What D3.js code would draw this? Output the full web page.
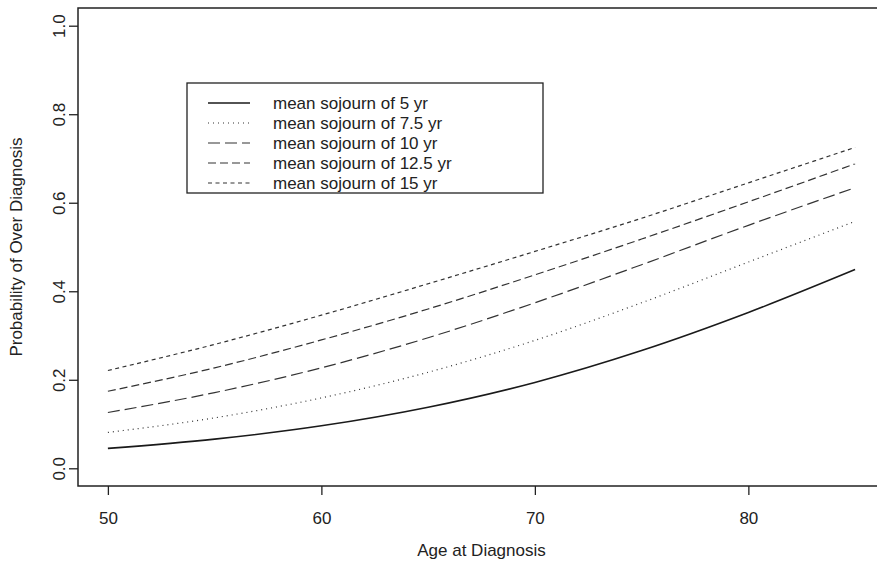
<!DOCTYPE html>
<html>
<head>
<meta charset="utf-8">
<script src="https://cdn.jsdelivr.net/npm/d3@7"></script>
<style>
  body { margin: 0; background: #fff; }
  svg { display: block; font-family: "Liberation Sans", Arial, Helvetica, sans-serif; }
</style>
</head>
<body>
<div id="viz"></div>
<script>
// values (probability of over diagnosis by age)
var ages = [50, 55, 60, 65, 70, 75, 80, 85];
var sojourn5   = [0.045, 0.066, 0.096, 0.138, 0.194, 0.266, 0.352, 0.449];
var sojourn7_5 = [0.081, 0.114, 0.159, 0.217, 0.289, 0.374, 0.466, 0.558];
var sojourn10  = [0.126, 0.171, 0.227, 0.295, 0.374, 0.460, 0.549, 0.634];
var sojourn12_5 = [0.174, 0.227, 0.290, 0.360, 0.437, 0.518, 0.602, 0.688];
var sojourn15  = [0.221, 0.280, 0.346, 0.417, 0.490, 0.565, 0.645, 0.725];
var seriesNames = ["mean sojourn of 5 yr", "mean sojourn of 7.5 yr", "mean sojourn of 10 yr",
                   "mean sojourn of 12.5 yr", "mean sojourn of 15 yr"];
var xTicks = [50, 60, 70, 80];
var yTicks = [0, 0.2, 0.4, 0.6, 0.8, 1.0];

var allSeries = [sojourn5, sojourn7_5, sojourn10, sojourn12_5, sojourn15];
var dashes = [null, "1,4", "12,5", "8,4", "4,3.5"];

var W = 877, H = 563;
var box = {left: 78, right: 885, top: 8, bottom: 486};

var svg = d3.select("#viz")
  .append("svg")
    .attr("width", W)
    .attr("height", H);

// R style axis range, 4% padding on each side
var x = d3.scaleLinear().domain([48.6, 86.4]).range([box.left, box.right]);
var y = d3.scaleLinear().domain([-0.04, 1.04]).range([box.bottom, box.top]);

// x axis
var xAxis = svg.append("g")
  .attr("transform", "translate(0," + box.bottom + ")")
  .call(d3.axisBottom(x).tickValues(xTicks).tickSize(9).tickPadding(17));
xAxis.select(".domain").remove();
xAxis.selectAll("line").attr("stroke", "#222").attr("stroke-width", 1.3);
xAxis.selectAll("text").attr("fill", "#222").style("font-size", "17px");

// y axis, labels turned like R does
var yAxis = svg.append("g")
  .attr("transform", "translate(" + box.left + ",0)")
  .call(d3.axisLeft(y).tickValues(yTicks).tickSize(9).tickFormat(d3.format(".1f")));
yAxis.select(".domain").remove();
yAxis.selectAll("line").attr("stroke", "#222").attr("stroke-width", 1.3);
yAxis.selectAll("text")
  .attr("fill", "#222")
  .style("font-size", "17px")
  .attr("transform", "rotate(-90)")
  .attr("x", 0)
  .attr("y", -13)
  .attr("dy", 0)
  .attr("text-anchor", "middle");

// plot frame
svg.append("rect")
  .attr("x", box.left).attr("y", box.top)
  .attr("width", box.right - box.left).attr("height", box.bottom - box.top)
  .attr("fill", "none").attr("stroke", "#222").attr("stroke-width", 1.5);

// axis titles
svg.append("text")
  .attr("x", (box.left + box.right) / 2)
  .attr("y", 556)
  .attr("text-anchor", "middle")
  .style("font-size", "17px")
  .attr("fill", "#222")
  .text("Age at Diagnosis");

svg.append("text")
  .attr("transform", "translate(22," + y(0.5) + ") rotate(-90)")
  .attr("text-anchor", "middle")
  .style("font-size", "17px")
  .attr("fill", "#222")
  .text("Probability of Over Diagnosis");

// the curves
var line = d3.line()
  .x(function(d, i) { return x(ages[i]); })
  .y(function(d) { return y(d); })
  .curve(d3.curveMonotoneX);

allSeries.forEach(function(s, i) {
  svg.append("path")
    .datum(s)
    .attr("d", line)
    .attr("fill", "none")
    .attr("stroke", i == 0 ? "#1a1a1a" : "#333")
    .attr("stroke-width", i == 0 ? 1.6 : 1.2)
    .attr("stroke-dasharray", dashes[i]);
});

// legend
svg.append("rect")
  .attr("x", 187).attr("y", 83)
  .attr("width", 356).attr("height", 110)
  .attr("fill", "#fff").attr("stroke", "#222").attr("stroke-width", 1.3);

seriesNames.forEach(function(name, i) {
  var cy = 103 + i * 20;
  svg.append("line")
    .attr("x1", 208).attr("x2", 250)
    .attr("y1", cy).attr("y2", cy)
    .attr("stroke", i == 0 ? "#1a1a1a" : "#333")
    .attr("stroke-width", i == 0 ? 1.6 : 1.2)
    .attr("stroke-dasharray", dashes[i]);
  svg.append("text")
    .attr("x", 273).attr("y", cy + 6)
    .style("font-size", "17px")
    .attr("fill", "#222")
    .text(name);
});
</script>
</body>
</html>
